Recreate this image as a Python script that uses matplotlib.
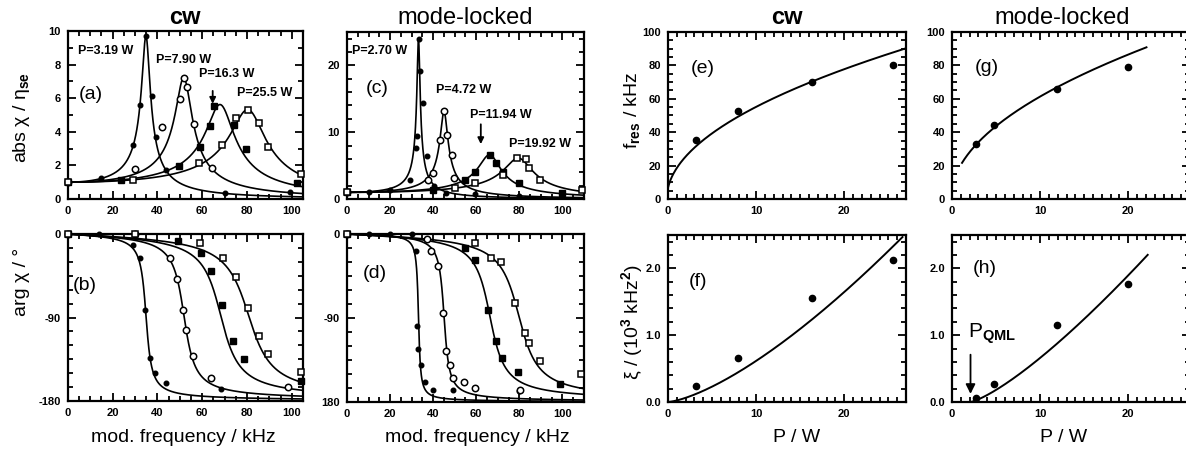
import numpy as np
import matplotlib.pyplot as plt
from matplotlib.ticker import MultipleLocator, FormatStrFormatter

plt.rcParams['font.family'] = ['Liberation Sans', 'DejaVu Sans']
plt.rcParams['font.weight'] = 'bold'
plt.rcParams['mathtext.fontset'] = 'custom'
plt.rcParams['mathtext.rm'] = 'Liberation Sans'
plt.rcParams['mathtext.it'] = 'Liberation Sans:italic'
plt.rcParams['mathtext.bf'] = 'Liberation Sans:bold'
plt.rcParams['axes.unicode_minus'] = False

# ---- cw: transfer function vs. modulation frequency ----
cw_power = [3.19, 7.90, 16.3, 25.5]
cw_fit_fres = [35.0, 52.0, 68.5, 81.0]     # kHz
cw_fit_peak = [9.7, 7.2, 5.6, 5.3]

cw_abs_f = [[0, 15, 29.2, 32.4, 35.1, 37.8, 39.6, 44, 70, 99],
            [0, 29.9, 42.2, 49.9, 51.8, 53.3, 56.3, 64.4],
            [0, 24, 49.6, 59.1, 63.6, 65.5, 74.4, 79.6, 102.5],
            [0, 29.2, 58.8, 68.9, 75.1, 80.3, 85.2, 89.2, 104]]
cw_abs_v = [[1.0, 1.24, 3.2, 5.6, 9.7, 6.15, 3.7, 1.7, 0.35, 0.4],
            [1.0, 1.77, 4.26, 5.95, 7.2, 6.67, 4.48, 1.83],
            [1.0, 1.13, 1.97, 3.12, 4.37, 5.55, 4.4, 2.97, 0.94],
            [1.0, 1.13, 2.13, 3.2, 4.8, 5.3, 4.55, 3.12, 1.5]]

cw_arg_f = [[0, 14, 29.2, 32.1, 34.6, 36.6, 38.8, 44, 68.4],
            [0, 30, 45.5, 48.7, 51.4, 52.6, 55.8, 64, 98.5],
            [0, 49.2, 59.6, 64, 68.9, 73.6, 78.8, 104],
            [0, 30, 59.1, 69.2, 75.1, 80.3, 85.2, 89.2, 104]]
cw_arg_v = [[0, 0, -12, -26, -82, -134, -150, -161, -167],
            [0, 0, -26, -48, -82, -104, -132, -155, -165],
            [0, -8, -21, -40, -77, -115, -135, -158],
            [0, 0, -10, -26, -46, -80, -110, -129, -149]]

# ---- mode-locked ----
ml_power = [2.70, 4.72, 11.94, 19.92]
ml_fit_fres = [33.2, 45.1, 66.5, 80.0]
ml_fit_peak = [23.9, 13.1, 6.6, 6.1]

ml_abs_f = [[0, 10, 20, 29.4, 32.1, 32.5, 33.2, 34, 35.2, 37.1, 40.2, 46, 59.5, 80, 100],
            [0, 37.4, 39.9, 43, 45.1, 46.4, 48.7, 49.5],
            [0, 40, 54.9, 59.5, 66.2, 69.2, 72.6, 79.6, 99.7],
            [0, 50, 59.5, 72.6, 79.1, 83.2, 84.7, 89.6, 109]]
ml_abs_v = [[1.0, 1.0, 1.3, 2.9, 7.6, 9.4, 23.9, 19.1, 14.4, 6.4, 1.9, 0.9, 0.8, 0.4, 0.4],
            [1.0, 2.9, 3.9, 8.9, 13.1, 9.6, 6.6, 3.1],
            [1.0, 1.4, 2.9, 4.1, 6.6, 5.4, 4.1, 2.4, 0.9],
            [1.0, 1.6, 2.4, 3.6, 6.1, 6.0, 4.6, 2.9, 1.3]]

ml_arg_f = [[0, 10, 20, 30, 32, 32.3, 33, 34.3, 36.4, 40, 49, 80],
            [0, 37, 39.2, 42.3, 44.6, 46.1, 47.7, 49.2, 54.2, 59.3, 80.1],
            [0, 54.6, 59.3, 65.4, 69, 72.1, 79.3, 98.9],
            [0, 59.3, 67, 71.6, 78.2, 82.4, 84.7, 89.4, 108.7]]
ml_arg_v = [[0, 0, 0, 0, -18, -99, -123, -140, -159, -167, -167, -168],
            [0, -5, -18, -34, -85, -125, -140, -154, -159, -165, -167],
            [0, -15, -28, -81, -115, -133, -148, -161],
            [0, -10, -26, -30, -74, -106, -117, -136, -150]]

# ---- resonance frequency and damping vs. pump power ----
cw_fres = [35.5, 52.9, 70.3, 80.0]
cw_xi = [0.235, 0.665, 1.55, 2.125]
ml_fres = [33.1, 44.5, 65.9, 78.9]
ml_xi = [0.06, 0.265, 1.15, 1.76]

# fit parameters: f_res = sqrt(k (P + p0)),  xi = c (P - p1)^d
cw_fres_k, cw_fres_p0, cw_fres_range = 300.0, 0.15, (0.0, 27.0)
ml_fres_k, ml_fres_p0, ml_fres_range = 372.0, 0.12, (1.14, 22.06)
cw_xi_c, cw_xi_p1, cw_xi_d, cw_xi_range = 0.0234, 0.0, 1.42, (0.0, 26.6)
ml_xi_c, ml_xi_p1, ml_xi_d, ml_xi_range = 0.0459, 2.1, 1.29, (2.1, 22.2)
p_qml = 2.1

MARKERS = [dict(marker='o', ms=3.3, mfc='k', mec='k'),
           dict(marker='o', ms=4.6, mfc='white', mec='k', mew=1.1),
           dict(marker='s', ms=4.4, mfc='k', mec='k'),
           dict(marker='s', ms=4.8, mfc='white', mec='k', mew=1.1)]


def transfer(f, fres, peak):
    g = fres / peak
    return fres**2 / (fres**2 - f**2 + 1j * f * g)


def style(ax, xmaj, xmin, ymaj, ymin):
    ax.xaxis.set_major_locator(MultipleLocator(xmaj))
    ax.xaxis.set_minor_locator(MultipleLocator(xmin))
    ax.yaxis.set_major_locator(MultipleLocator(ymaj))
    ax.yaxis.set_minor_locator(MultipleLocator(ymin))
    ax.tick_params(which='both', direction='in', top=True, right=True,
                   width=1.3, labelsize=8, pad=5)
    ax.tick_params(which='major', length=6)
    ax.tick_params(which='minor', length=3.5)
    for s in ax.spines.values():
        s.set_linewidth(1.6)


def main():
    fig = plt.figure(figsize=(11.86, 4.51), dpi=100)
    W, H = 1186.0, 451.0

    def box(l, r, t, b):
        return [l / W, 1 - b / H, (r - l) / W, (b - t) / H]

    ax_a = fig.add_axes(box(67.7, 303, 31, 199))
    ax_b = fig.add_axes(box(67.7, 303, 234, 401))
    ax_c = fig.add_axes(box(347, 584, 32, 199))
    ax_d = fig.add_axes(box(347, 584, 234, 402))
    ax_e = fig.add_axes(box(668, 906, 32, 199))
    ax_f = fig.add_axes(box(668, 906, 235, 402))
    ax_g = fig.add_axes(box(952, 1190, 32, 199))
    ax_h = fig.add_axes(box(952, 1190, 235, 402))

    # frequency response panels
    for ax_abs, ax_arg, fmax, fres_fit, peak_fit, af, av, pf, pv in [
            (ax_a, ax_b, 105, cw_fit_fres, cw_fit_peak, cw_abs_f, cw_abs_v, cw_arg_f, cw_arg_v),
            (ax_c, ax_d, 110, ml_fit_fres, ml_fit_peak, ml_abs_f, ml_abs_v, ml_arg_f, ml_arg_v)]:
        f = np.linspace(0, fmax, 1500)
        for i in range(4):
            h = transfer(f, fres_fit[i], peak_fit[i])
            ax_abs.plot(f, np.abs(h), color='k', lw=1.2)
            ax_arg.plot(f, np.degrees(np.angle(h)), color='k', lw=1.2)
        for i in range(4):
            ax_abs.plot(af[i], av[i], ls='none', clip_on=False, zorder=3, **MARKERS[i])
            ax_arg.plot(pf[i], pv[i], ls='none', clip_on=False, zorder=3, **MARKERS[i])
        ax_abs.set_xlim(0, fmax)
        ax_arg.set_xlim(0, fmax)
        ax_arg.set_ylim(-180, 0)

    ax_a.set_ylim(0, 10)
    style(ax_a, 20, 5, 2, 1)
    ax_c.set_ylim(0, 25)
    style(ax_c, 20, 5, 10, 2)
    style(ax_b, 20, 5, 90, 15)
    style(ax_d, 20, 5, 90, 15)
    ax_b.set_yticks([-180, -90, 0], ['-180', '-90', '0'])
    ax_d.set_yticks([-180, -90, 0], ['180', '-90', '0'])

    # power dependence panels
    p = np.linspace(*cw_fres_range, 300)
    ax_e.plot(p, np.sqrt(cw_fres_k * (p + cw_fres_p0)), color='k', lw=1.4)
    ax_e.plot(cw_power, cw_fres, 'o', color='k', ms=4.5)
    p = np.linspace(*ml_fres_range, 300)
    ax_g.plot(p, np.sqrt(ml_fres_k * (p + ml_fres_p0)), color='k', lw=1.4)
    ax_g.plot(ml_power, ml_fres, 'o', color='k', ms=4.5)
    p = np.linspace(*cw_xi_range, 300)
    ax_f.plot(p, cw_xi_c * (p - cw_xi_p1) ** cw_xi_d, color='k', lw=1.4)
    ax_f.plot(cw_power, cw_xi, 'o', color='k', ms=4.5)
    p = np.linspace(*ml_xi_range, 300)
    ax_h.plot(p, ml_xi_c * (p - ml_xi_p1) ** ml_xi_d, color='k', lw=1.4)
    ax_h.plot(ml_power, ml_xi, 'o', color='k', ms=4.5)

    for ax in (ax_e, ax_g):
        ax.set_xlim(0, 27)
        ax.set_ylim(0, 100)
        style(ax, 10, 1, 20, 5)
    for ax in (ax_f, ax_h):
        ax.set_xlim(0, 27)
        ax.set_ylim(0, 2.5)
        style(ax, 10, 1, 1.0, 0.2)
        ax.yaxis.set_major_formatter(FormatStrFormatter('%.1f'))

    # panel letters
    big = dict(fontsize=14, fontweight='normal')
    ax_a.text(5, 6.2, '(a)', va='center', **big)
    ax_b.text(2.4, -56, '(b)', va='center', **big)
    ax_c.text(8.5, 16.5, '(c)', va='center', **big)
    ax_d.text(7.3, -42, '(d)', va='center', **big)
    ax_e.text(2.6, 78, '(e)', va='center', **big)
    ax_f.text(2.4, 1.8, '(f)', va='center', **big)
    ax_g.text(2.6, 79, '(g)', va='center', **big)
    ax_h.text(2.4, 2.0, '(h)', va='center', **big)

    # power labels
    lab = dict(fontsize=9, fontweight='bold', va='center')
    ax_a.text(4.7, 8.8, 'P=3.19 W', **lab)
    ax_a.text(39.6, 8.25, 'P=7.90 W', **lab)
    ax_a.text(58.8, 7.45, 'P=16.3 W', **lab)
    ax_a.text(75.4, 6.3, 'P=25.5 W', **lab)
    ax_a.annotate('', xy=(64.7, 5.5), xytext=(64.7, 6.6),
                  arrowprops=dict(arrowstyle='-|>', color='k', lw=1.3, mutation_scale=9))
    ax_c.text(2.3, 22.1, 'P=2.70 W', **lab)
    ax_c.text(41.4, 16.3, 'P=4.72 W', **lab)
    ax_c.text(57.2, 12.5, 'P=11.94 W', **lab)
    ax_c.text(75.4, 8.3, 'P=19.92 W', **lab)
    ax_c.annotate('', xy=(62.1, 7.8), xytext=(62.1, 11.6),
                  arrowprops=dict(arrowstyle='-|>', color='k', lw=1.3, mutation_scale=9))
    ax_h.text(1.85, 0.97, r'P$_{\rm QML}$', fontsize=15, fontweight='normal', va='baseline')
    ax_h.annotate('', xy=(p_qml, 0.08), xytext=(p_qml, 0.75),
                  arrowprops=dict(arrowstyle='-|>', color='k', lw=1.3, mutation_scale=14))

    # titles
    tt = dict(fontsize=17, ha='center', va='baseline')
    fig.text(185 / W, 1 - 24 / H, 'cw', fontweight='bold', **tt)
    fig.text(465 / W, 1 - 24 / H, 'mode-locked', fontweight='normal', **tt)
    fig.text(787 / W, 1 - 24 / H, 'cw', fontweight='bold', **tt)
    fig.text(1062 / W, 1 - 24 / H, 'mode-locked', fontweight='normal', **tt)

    # axis labels
    al = dict(fontsize=14, fontweight='normal', ha='center', va='center')
    fig.text(22 / W, 1 - 117 / H, 'abs χ / η$_{\\rm se}$', rotation=90, **al)
    fig.text(22 / W, 1 - 282 / H, 'arg χ / °', rotation=90, **al)
    fig.text(632 / W, 1 - 110 / H, 'f$_{\\rm res}$ / kHz', rotation=90, **al)
    fig.text(632 / W, 1 - 322 / H, 'ξ / (10$^3$ kHz$^2$)', rotation=90, **al)
    fig.text(183 / W, 1 - 437 / H, 'mod. frequency / kHz', **al)
    fig.text(477 / W, 1 - 437 / H, 'mod. frequency / kHz', **al)
    fig.text(797 / W, 1 - 437 / H, 'P / W', **al)
    fig.text(1064 / W, 1 - 437 / H, 'P / W', **al)

    fig.savefig('out.png', dpi=100)


if __name__ == '__main__':
    main()
